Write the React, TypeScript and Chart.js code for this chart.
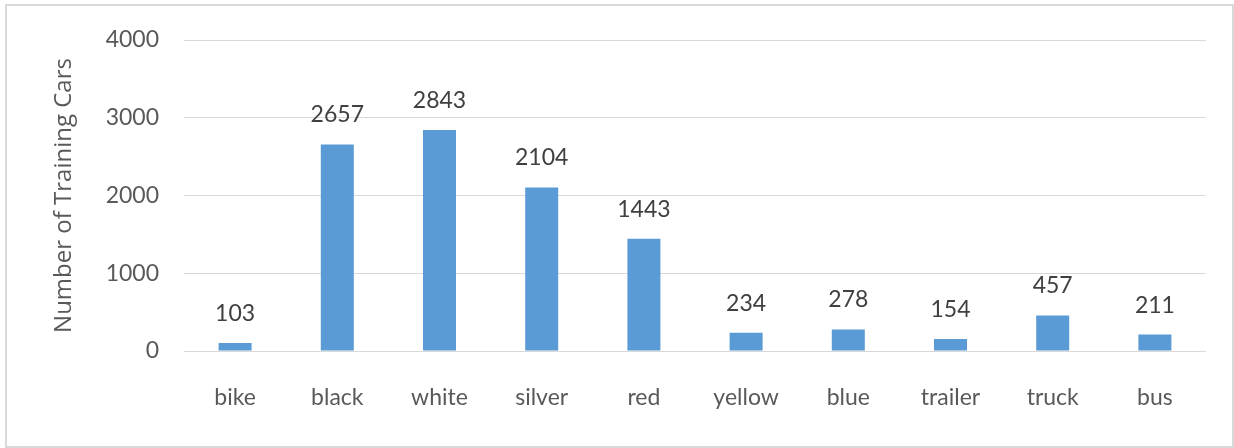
import React, { useEffect, useRef } from "react";
import { Chart, registerables } from "chart.js";

Chart.register(...registerables);

const categories = ["bike", "black", "white", "silver", "red", "yellow", "blue", "trailer", "truck", "bus"];
const trainingCars = [103, 2657, 2843, 2104, 1443, 234, 278, 154, 457, 211];
const yTicks = [0, 1000, 2000, 3000, 4000];
const yTitle = "Number of Training Cars";

const FONT = "Lato, 'Open Sans', sans-serif";
const TITLE_FONT = "'Open Sans', Lato, sans-serif";

const labelPlugin = {
  id: "barValueLabels",
  afterDatasetsDraw(chart: any) {
    const ctx = chart.ctx;
    const meta = chart.getDatasetMeta(0);
    ctx.save();
    ctx.font = `23px ${FONT}`;
    ctx.fillStyle = "#404040";
    ctx.textAlign = "center";
    ctx.textBaseline = "alphabetic";
    meta.data.forEach((bar: any, i: number) => {
      ctx.fillText(String(trainingCars[i]), bar.x, bar.y - 22);
    });
    ctx.restore();
  },
};

export default function App() {
  const canvasRef = useRef<HTMLCanvasElement | null>(null);

  useEffect(() => {
    if (!canvasRef.current) return;
    const chart = new Chart(canvasRef.current, {
      type: "bar",
      data: {
        labels: categories,
        datasets: [
          {
            data: trainingCars,
            backgroundColor: "#5B9BD5",
            borderWidth: 0,
            barPercentage: 0.323,
            categoryPercentage: 1,
          },
        ],
      },
      options: {
        responsive: false,
        animation: false,
        devicePixelRatio: 1,
        layout: { padding: { left: 0, right: 28, top: 40, bottom: 0 } },
        plugins: {
          legend: { display: false },
          tooltip: { enabled: false },
        },
        scales: {
          x: {
            grid: { display: false, drawTicks: false },
            border: { display: false },
            ticks: {
              color: "#595959",
              font: { family: FONT, size: 23 },
              padding: 33,
              maxRotation: 0,
            },
            afterFit: (scale: any) => {
              scale.height = 97;
            },
          },
          y: {
            min: yTicks[0],
            max: yTicks[yTicks.length - 1],
            afterBuildTicks: (scale: any) => {
              scale.ticks = yTicks.map((v) => ({ value: v }));
            },
            grid: { color: "#D9D9D9", lineWidth: 1, drawTicks: false },
            border: { display: false },
            ticks: {
              color: "#595959",
              font: { family: FONT, size: 23 },
              padding: 25,
              callback: (value: any) => String(value),
            },
            title: {
              display: true,
              text: yTitle,
              color: "#595959",
              font: { family: TITLE_FONT, size: 24 },
              padding: { top: 50, bottom: 0 },
            },
            afterFit: (scale: any) => {
              scale.width = 184;
            },
          },
        },
      },
      plugins: [labelPlugin],
    });
    return () => chart.destroy();
  }, []);

  return (
    <div style={{ position: "absolute", left: 0, top: 0, width: 1234, height: 448, background: "#fff" }}>
      <div
        style={{
          position: "absolute",
          left: 5,
          top: 4,
          width: 1229,
          height: 444,
          border: "2px solid #D9D9D9",
          boxSizing: "border-box",
        }}
      />
      <canvas ref={canvasRef} width={1234} height={448} style={{ position: "absolute", left: 0, top: 0 }} />
    </div>
  );
}
